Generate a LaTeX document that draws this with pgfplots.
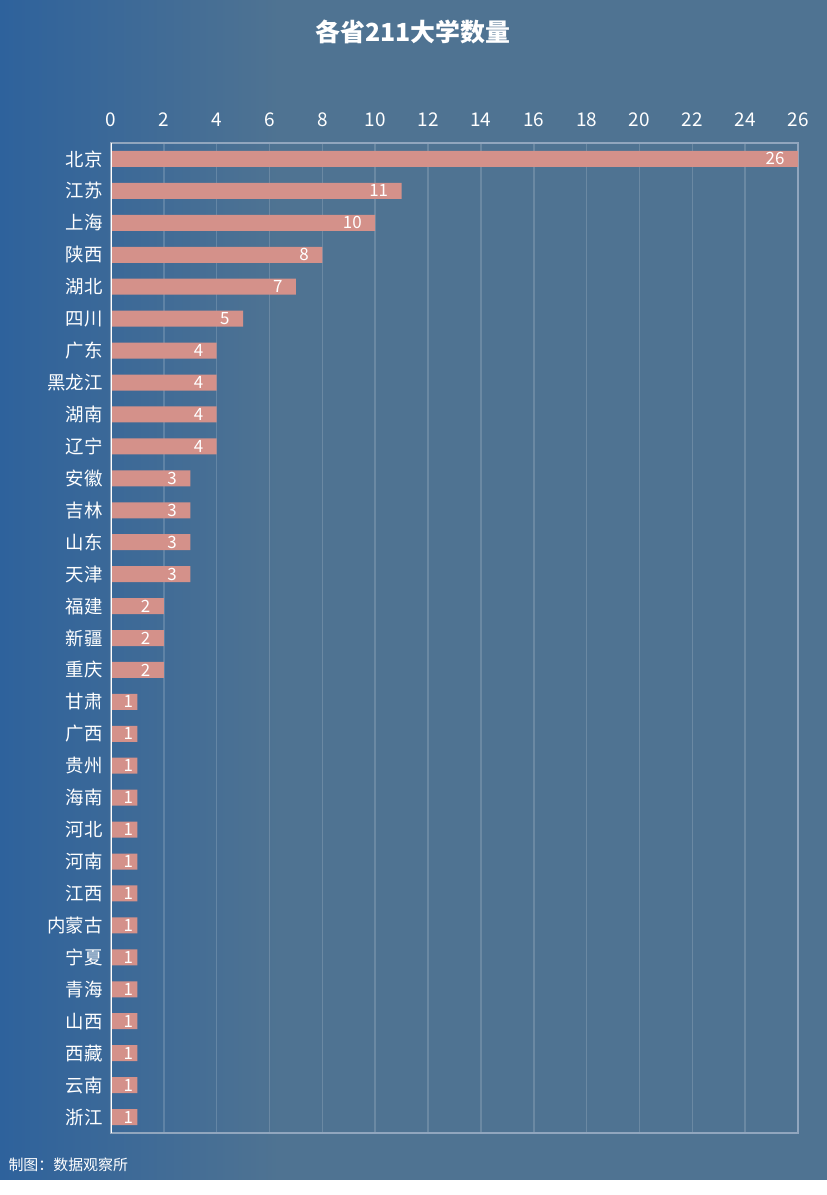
\documentclass[border=0pt]{standalone}
\usepackage{fontspec}
\setmainfont{Noto Sans CJK SC}
\usepackage{pgfplots}
\usepackage{pgfplotstable}
\pgfplotsset{compat=1.18}
\definecolor{bgL}{RGB}{46,98,156}
\definecolor{bgM}{RGB}{79,115,146}
\definecolor{barc}{RGB}{212,145,138}
\definecolor{framec}{RGB}{145,166,190}
\pgfplotstableread{
idx val
0 26
1 11
2 10
3 8
4 7
5 5
6 4
7 4
8 4
9 4
10 3
11 3
12 3
13 3
14 2
15 2
16 2
}\datamulti
\pgfplotstableread{
idx val
17 1
18 1
19 1
20 1
21 1
22 1
23 1
24 1
25 1
26 1
27 1
28 1
29 1
30 1
}\dataone
\begin{document}
\begin{tikzpicture}[x=1bp,y=1bp]
\fill[white] (0,0) rectangle (827,1195);
\shade[left color=bgL,right color=bgM] (0,15) rectangle (280,1195);
\fill[bgM] (279.5,15) rectangle (827,1195);
\node[font=\fontsize{25}{30}\selectfont\bfseries, text=white] at (413,1163) {各省211大学数量};
\node[font=\fontsize{15}{17}\selectfont, text=white, anchor=west] at (5,30) {制图：数据观察所};
\begin{axis}[
  at={(111bp,62bp)}, anchor=south west,
  width=687bp, height=990bp, scale only axis,
  xbar, bar width=16bp, bar shift=0pt,
  xmin=0, xmax=26, ymin=-0.5, ymax=30.5,
  y dir=reverse,
  xtick={0,2,...,26},
  ytick={0,...,30},
  yticklabels={北京,江苏,上海,陕西,湖北,四川,广东,黑龙江,湖南,辽宁,安徽,吉林,山东,天津,福建,新疆,重庆,甘肃,广西,贵州,海南,河北,河南,江西,内蒙古,宁夏,青海,山西,西藏,云南,浙江},
  xticklabel pos=upper,
  major tick length=0pt,
  /pgf/number format/assume math mode=true,
  xticklabel style={font=\fontsize{19}{22}\selectfont, text=white, yshift=13bp},
  yticklabel style={font=\fontsize{18.5}{21}\selectfont, text=white, xshift=-5bp},
  xmajorgrids,
  major grid style={white, opacity=0.16, line width=1.5bp},
  axis line style={framec, line width=1.5bp},
  nodes near coords,
  point meta=x,
]
\addplot[fill=barc, draw=none, bar shift=0pt,
  every node near coord/.append style={anchor=east, xshift=-10bp, text=white, font=\fontsize{17}{19}\selectfont}]
  table[x=val, y=idx] {\datamulti};
\addplot[fill=barc, draw=none, bar shift=0pt,
  every node near coord/.append style={anchor=east, xshift=-1bp, text=white, font=\fontsize{17}{19}\selectfont}]
  table[x=val, y=idx] {\dataone};
\draw[white, line width=2bp] (rel axis cs:0,0) -- (rel axis cs:0,1);
\end{axis}
\end{tikzpicture}
\end{document}
